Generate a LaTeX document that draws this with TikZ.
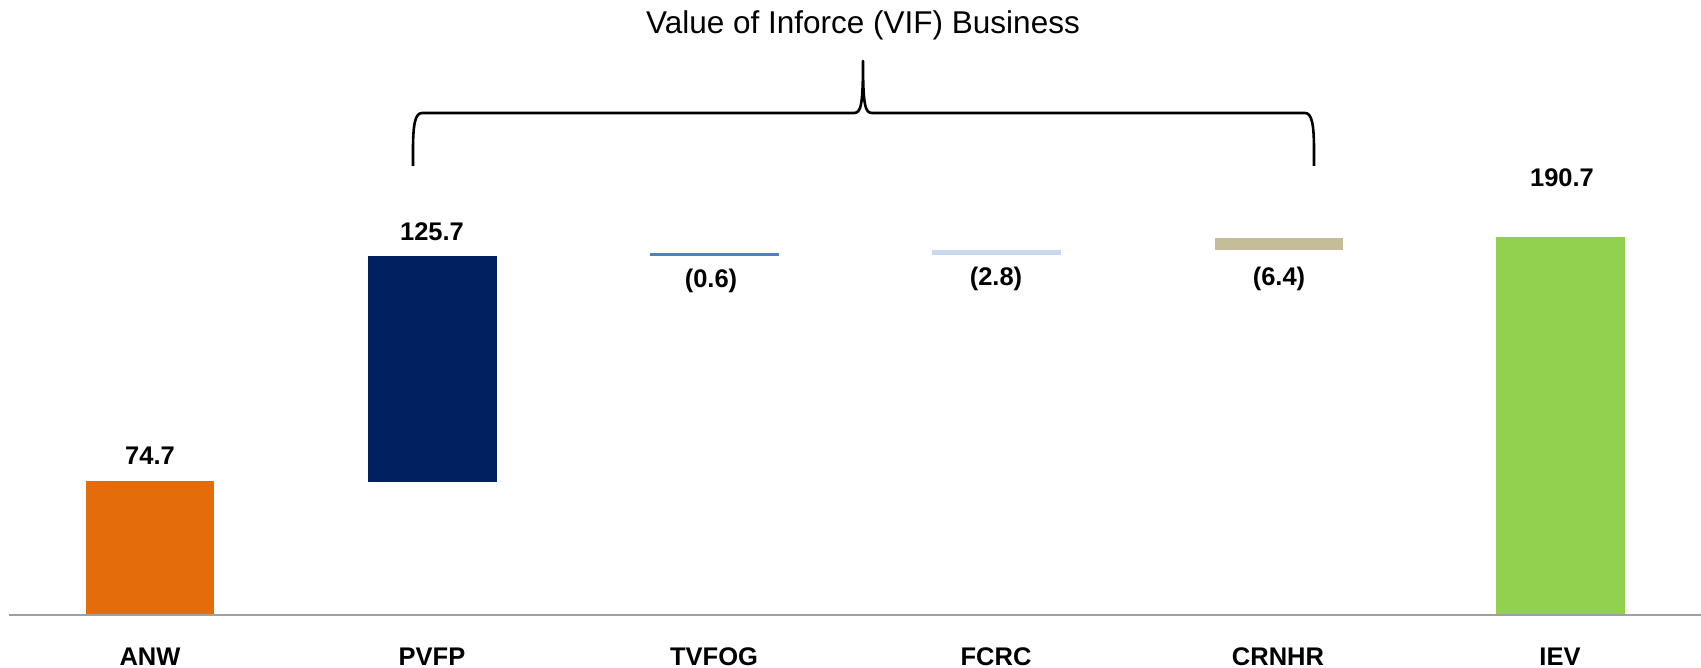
\documentclass[tikz,border=0pt]{standalone}
\usepackage{fontspec}
\setmainfont{Liberation Sans}
\definecolor{anwc}{HTML}{E46C0A}
\definecolor{pvfpc}{HTML}{002060}
\definecolor{tvfogc}{HTML}{4F81BD}
\definecolor{fcrcc}{HTML}{C6D9F1}
\definecolor{crnhrc}{HTML}{C4BD97}
\definecolor{ievc}{HTML}{92D050}
\definecolor{axisc}{HTML}{A0A0A0}
\begin{document}
\begin{tikzpicture}[x=1pt,y=-1pt,
  bar/.style={inner sep=0pt, outer sep=0pt, anchor=north west, draw=none},
  val/.style={font=\bfseries\fontsize{25.5}{28}\selectfont, anchor=base, inner sep=0pt},
  cat/.style={font=\bfseries\fontsize{25.5}{28}\selectfont, anchor=base, inner sep=0pt},
  titletext/.style={font=\fontsize{31.5}{36}\selectfont, anchor=base, inner sep=0pt},
  bracestyle/.style={line width=2.6pt, line join=round},
  axisline/.style={line width=2pt, draw=axisc}]
\useasboundingbox (0,0) rectangle (1701,668);

% bars
\node[bar, fill=anwc,   minimum width=128pt, minimum height=134pt] (anw)   at (86,481)   {};
\node[bar, fill=pvfpc,  minimum width=129pt, minimum height=226pt] (pvfp)  at (368,256)  {};
\node[bar, fill=tvfogc, minimum width=129pt, minimum height=3pt]   (tvfog) at (650,253.5){};
\node[bar, fill=fcrcc,  minimum width=129pt, minimum height=5pt]   (fcrc)  at (932,250)  {};
\node[bar, fill=crnhrc, minimum width=128pt, minimum height=12pt]  (crnhr) at (1215,238) {};
\node[bar, fill=ievc,   minimum width=129pt, minimum height=378pt] (iev)   at (1496,237) {};

% axis
\coordinate (axL) at (9,615);
\coordinate (axR) at (1701,615);
\draw[axisline] (axL) -- (axR);

% value labels
\node[val] (vanw)   at (150,464)    {74.7};
\node[val] (vpvfp)  at (432,240.7)  {125.7};
\node[val] (vtvfog) at (711,288)    {(0.6)};
\node[val] (vfcrc)  at (996,286)    {(2.8)};
\node[val] (vcrnhr) at (1279,285.5) {(6.4)};
\node[val] (viev)   at (1562,186.7) {190.7};

% category labels
\node[cat] (canw)   at (150,665)  {ANW};
\node[cat] (cpvfp)  at (432,665)  {PVFP};
\node[cat] (ctvfog) at (714,665)  {TVFOG};
\node[cat] (cfcrc)  at (996,665)  {FCRC};
\node[cat] (ccrnhr) at (1278,665) {CRNHR};
\node[cat] (ciev)   at (1560,665) {IEV};

% title
\node[titletext] (title) at (863,33.3) {Value of Inforce (VIF) Business};

% brace
\draw[bracestyle] (413,166) -- (413,150)
  .. controls (413,125) and (415,113) .. (422,113)
  -- (854,113)
  .. controls (861,113) and (863,105) .. (863,61)
  .. controls (863,105) and (865,113) .. (872,113)
  -- (1305,113)
  .. controls (1312,113) and (1314,125) .. (1314,150)
  -- (1314,166);
\end{tikzpicture}
\end{document}
